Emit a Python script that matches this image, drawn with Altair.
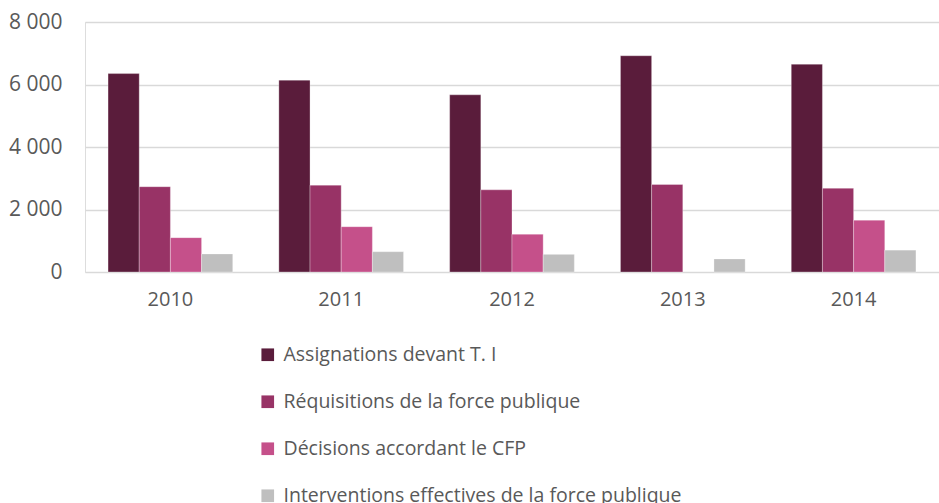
import altair as alt
import pandas as pd

years = ["2010", "2011", "2012", "2013", "2014"]
series = [
    "Assignations devant T. I",
    "Réquisitions de la force publique",
    "Décisions accordant le CFP",
    "Interventions effectives de la force publique",
]
assignations = [6350, 6140, 5670, 6920, 6650]
requisitions = [2730, 2780, 2630, 2800, 2680]
decisions = [1100, 1450, 1210, None, 1660]
interventions = [580, 650, 565, 420, 700]
colors = ["#5A1C3B", "#983366", "#C5508A", "#BFBFBF"]

rows = []
for s, vals in zip(series, [assignations, requisitions, decisions, interventions]):
    for y, v in zip(years, vals):
        rows.append({"Année": y, "Série": s, "Valeur": v})
df = pd.DataFrame(rows)

font = "Open Sans"
txt = "#595959"

chart = alt.Chart(df).mark_bar(stroke="#ffffff", strokeWidth=0.6, strokeOpacity=0.5).encode(
    x=alt.X("Année:N", sort=years, title=None,
            scale=alt.Scale(paddingInner=0.27, paddingOuter=0.135),
            axis=alt.Axis(labelAngle=0, domain=False, ticks=False, labelFontSize=20,
                          labelColor=txt, labelFont=font, labelPadding=17)),
    xOffset=alt.XOffset("Série:N", sort=series, scale=alt.Scale(domain=series)),
    y=alt.Y("Valeur:Q", title=None,
            scale=alt.Scale(domain=[0, 8000], nice=False),
            axis=alt.Axis(values=[0, 2000, 4000, 6000, 8000], format=",d",
                          domain=False, ticks=False, labelFontSize=21, labelColor=txt,
                          labelFont=font, labelPadding=23, gridColor="#D9D9D9",
                          gridWidth=1.3)),
    color=alt.Color("Série:N", sort=series,
                    scale=alt.Scale(domain=series, range=colors),
                    legend=alt.Legend(title=None, orient="none", legendX=173, legendY=323,
                                      direction="vertical", symbolType="square",
                                      symbolSize=160, symbolStrokeWidth=0,
                                      labelFontSize=19.5, labelColor=txt, labelFont=font,
                                      rowPadding=26, labelOffset=6, labelLimit=700)),
).properties(
    width=854, height=250,
    autosize=alt.AutoSizeParams(type="none"),
    padding={"left": 85, "top": 22, "right": 0, "bottom": 231},
).configure_view(strokeWidth=0).configure(
    locale={"number": {"decimal": ",", "thousands": "\u00a0", "grouping": [3], "currency": ["", " €"]}}
)

chart.save("out.html", embed_options={"renderer": "svg", "actions": False})
